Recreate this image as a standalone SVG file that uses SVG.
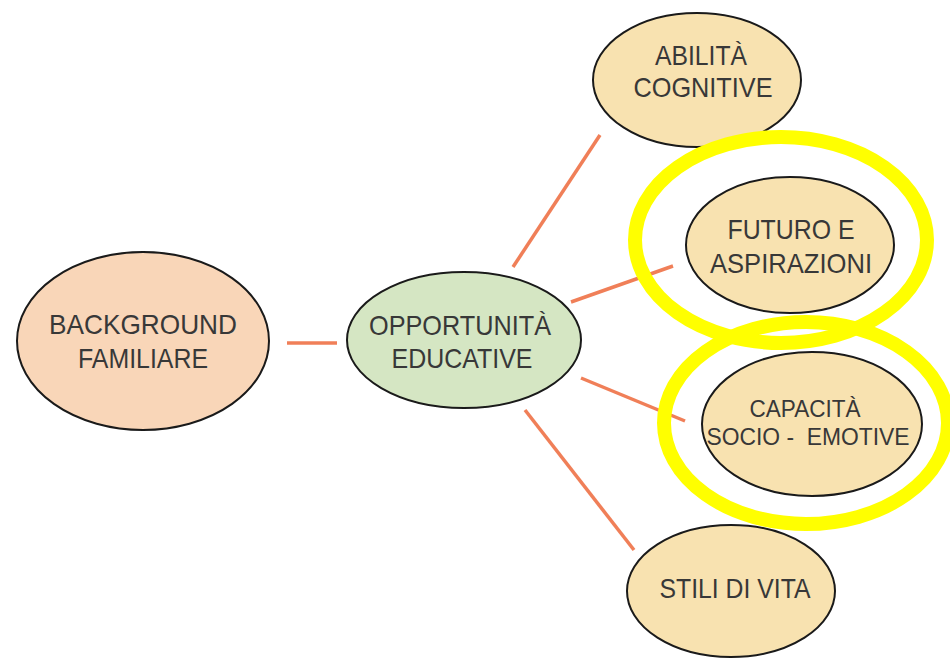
<svg xmlns="http://www.w3.org/2000/svg" width="950" height="658" viewBox="0 0 950 658">
<style>
.node{stroke:#1a1a1a;stroke-width:2}
.peach{fill:#f9d6b8}
.green{fill:#d5e6c3}
.tan{fill:#f8e2b0}
.lbl{font-family:"Liberation Sans",Arial,sans-serif;font-size:28px;fill:#383838;text-anchor:middle}
.sm{font-size:23px}
.conn{stroke:#f07f58;stroke-width:3.5;fill:none}
.ring{fill:none;stroke:#ffff00;stroke-width:14}
</style>
<rect width="950" height="658" fill="#ffffff"/>
<g id="connectors">
<line class="conn" x1="287" y1="343" x2="337" y2="343"/>
<line class="conn" x1="513" y1="267" x2="600" y2="135"/>
<line class="conn" x1="571" y1="302" x2="673" y2="266"/>
<line class="conn" x1="581" y1="378" x2="685" y2="421"/>
<line class="conn" x1="525" y1="410" x2="634" y2="550"/>
</g>
<g id="background">
<ellipse class="node peach" cx="143" cy="341" rx="126" ry="89"/>
<text class="lbl" x="143" y="334" textLength="188" lengthAdjust="spacingAndGlyphs">BACKGROUND</text>
<text class="lbl" x="143" y="368" textLength="130" lengthAdjust="spacingAndGlyphs">FAMILIARE</text>
</g>
<g id="opportunita">
<ellipse class="node green" cx="464" cy="340" rx="117" ry="68"/>
<text class="lbl" x="460" y="335" textLength="182" lengthAdjust="spacingAndGlyphs">OPPORTUNITÀ</text>
<text class="lbl" x="462" y="368" textLength="141" lengthAdjust="spacingAndGlyphs">EDUCATIVE</text>
</g>
<g id="abilita">
<ellipse class="node tan" cx="697" cy="80" rx="104" ry="67"/>
<text class="lbl" x="701" y="65" textLength="92" lengthAdjust="spacingAndGlyphs">ABILITÀ</text>
<text class="lbl" x="703" y="97" textLength="139" lengthAdjust="spacingAndGlyphs">COGNITIVE</text>
</g>
<g id="futuro">
<ellipse class="node tan" cx="790" cy="245" rx="104" ry="68"/>
<text class="lbl" x="791" y="239" textLength="127" lengthAdjust="spacingAndGlyphs">FUTURO E</text>
<text class="lbl" x="791" y="273" textLength="162" lengthAdjust="spacingAndGlyphs">ASPIRAZIONI</text>
</g>
<g id="capacita">
<ellipse class="node tan" cx="812" cy="424" rx="110" ry="72"/>
<text class="lbl sm" x="805" y="417" textLength="111" lengthAdjust="spacingAndGlyphs">CAPACITÀ</text>
<text class="lbl sm" x="808" y="445" textLength="203" lengthAdjust="spacingAndGlyphs" xml:space="preserve">SOCIO -  EMOTIVE</text>
</g>
<g id="stili">
<ellipse class="node tan" cx="731" cy="591" rx="104" ry="66"/>
<text class="lbl" x="735" y="598" textLength="151" lengthAdjust="spacingAndGlyphs">STILI DI VITA</text>
</g>
<g id="highlights">
<ellipse class="ring" cx="781" cy="240" rx="146" ry="103"/>
<ellipse class="ring" cx="806" cy="423" rx="142" ry="101"/>
</g>
</svg>
